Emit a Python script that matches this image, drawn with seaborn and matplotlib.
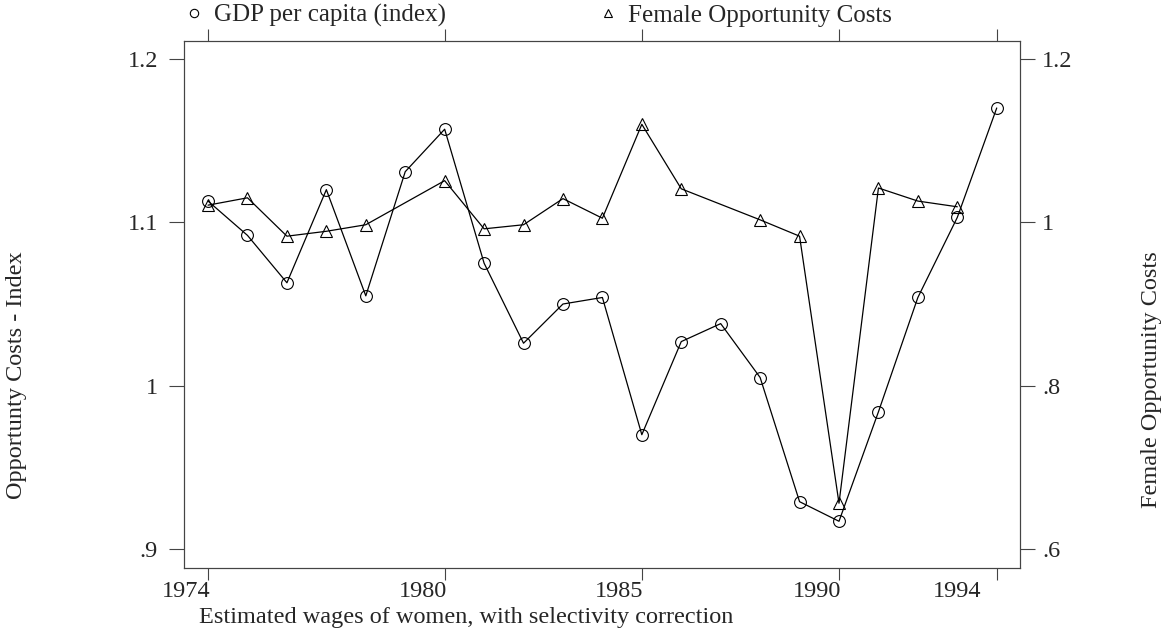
import numpy as np
import pandas as pd
import matplotlib
matplotlib.use('Agg')
import matplotlib.pyplot as plt
import matplotlib.transforms as mtransforms
from matplotlib.lines import Line2D
import seaborn as sns

# GDP per capita index (left axis), one value per year
years = list(range(1974, 1995))
gdp_index = [1.113, 1.092, 1.063, 1.120, 1.055, 1.131, 1.157, 1.075, 1.026, 1.050,
             1.054, 0.970, 1.027, 1.038, 1.005, 0.929, 0.917, 0.984, 1.054, 1.103, 1.170]

# Female opportunity costs (right axis), some years missing
female_years = [1974, 1975, 1976, 1977, 1978, 1980, 1981, 1982, 1983, 1984,
                1985, 1986, 1988, 1989, 1990, 1991, 1992, 1993]
female_costs = [1.021, 1.030, 0.983, 0.989, 0.997, 1.051, 0.992, 0.997, 1.029, 1.005,
                1.120, 1.041, 1.003, 0.983, 0.656, 1.042, 1.026, 1.019]

xticks = [1974, 1980, 1985, 1990, 1994]
left_ticks = [0.9, 1.0, 1.1, 1.2]
left_labels = ['.9', '1', '1.1', '1.2']
right_ticks = [0.6, 0.8, 1.0, 1.2]
right_labels = ['.6', '.8', '1', '1.2']

FS = 17.5

sns.set_theme(style='ticks')
plt.rcParams['font.family'] = ['Liberation Serif', 'DejaVu Serif']
plt.rcParams['font.size'] = FS
plt.rcParams['axes.edgecolor'] = '#444444'
plt.rcParams['axes.linewidth'] = 0.8

W, H = 1175, 637
fig = plt.figure(figsize=(W / 100, H / 100), dpi=100)
ax = fig.add_axes([184 / W, 1 - 568 / H, (1020 - 184) / W, (568 - 41) / H])
ax2 = ax.twinx()

line_kw = dict(color='black', lw=0.9, markersize=8.5, markerfacecolor='none',
               markeredgecolor='black', markeredgewidth=0.8)
df_gdp = pd.DataFrame({'year': years, 'value': gdp_index})
df_fem = pd.DataFrame({'year': female_years, 'value': female_costs})
sns.lineplot(data=df_gdp, x='year', y='value', ax=ax, marker='o', **line_kw)
sns.lineplot(data=df_fem, x='year', y='value', ax=ax2, marker='^', **line_kw)

ax.set_xlim(1973.39, 1994.59)
ax.set_ylim(0.8884, 1.211)
ax2.set_ylim(0.5767, 1.222)
ax.set_xlabel('')
ax.set_ylabel('')
ax2.set_ylabel('')

ax.set_xticks(xticks)
ax.set_xticklabels([str(t) for t in xticks])
ax.set_yticks(left_ticks)
ax.set_yticklabels(left_labels)
ax2.set_yticks(right_ticks)
ax2.set_yticklabels(right_labels)

tick_color = '#444444'
ax.tick_params(axis='x', direction='out', length=8.6, width=0.8, color=tick_color,
               top=True, labeltop=False, pad=1, labelsize=FS)
ax.tick_params(axis='y', direction='out', length=10.8, width=0.8, color=tick_color,
               pad=8, labelsize=FS)
ax2.tick_params(axis='y', direction='out', length=10.8, width=0.8, color=tick_color,
                pad=5, labelsize=FS)
for sp in ax2.spines.values():
    sp.set_color(tick_color)
    sp.set_linewidth(0.8)

xlabels = ax.get_xticklabels()
for lab in xlabels:
    lab.set_ha('right')
    lab.set_transform(lab.get_transform() + mtransforms.ScaledTranslation(2 / 100, 0, fig.dpi_scale_trans))
xlabels[-1].set_transform(xlabels[-1].get_transform() + mtransforms.ScaledTranslation(-17 / 100, 0, fig.dpi_scale_trans))

fig.text(199 / W, 1 - 618 / H, 'Estimated wages of women, with selectivity correction',
         ha='left', va='center', fontsize=FS)
fig.text(17 / W, 1 - 375 / H, 'Opportunty Costs - Index', rotation=90,
         ha='center', va='center', fontsize=FS)
fig.text(1152 / W, 1 - 380 / H, 'Female Opportunity Costs', rotation=90,
         ha='center', va='center', fontsize=FS)

handles = [
    Line2D([], [], ls='none', marker='o', markersize=6, markerfacecolor='none',
           markeredgecolor='black', markeredgewidth=0.8, label='GDP per capita (index)'),
    Line2D([], [], ls='none', marker='^', markersize=6, markerfacecolor='none',
           markeredgecolor='black', markeredgewidth=0.8, label='Female Opportunity Costs'),
]
fig.legend(handles=handles, loc='upper left', bbox_to_anchor=(181 / W, 1 - 4 / H), ncol=2,
           frameon=False, handlelength=1.0, handletextpad=0.3, columnspacing=6.0,
           borderpad=0, borderaxespad=0, fontsize=18)

fig.savefig('out.png', dpi=100, facecolor='white')
